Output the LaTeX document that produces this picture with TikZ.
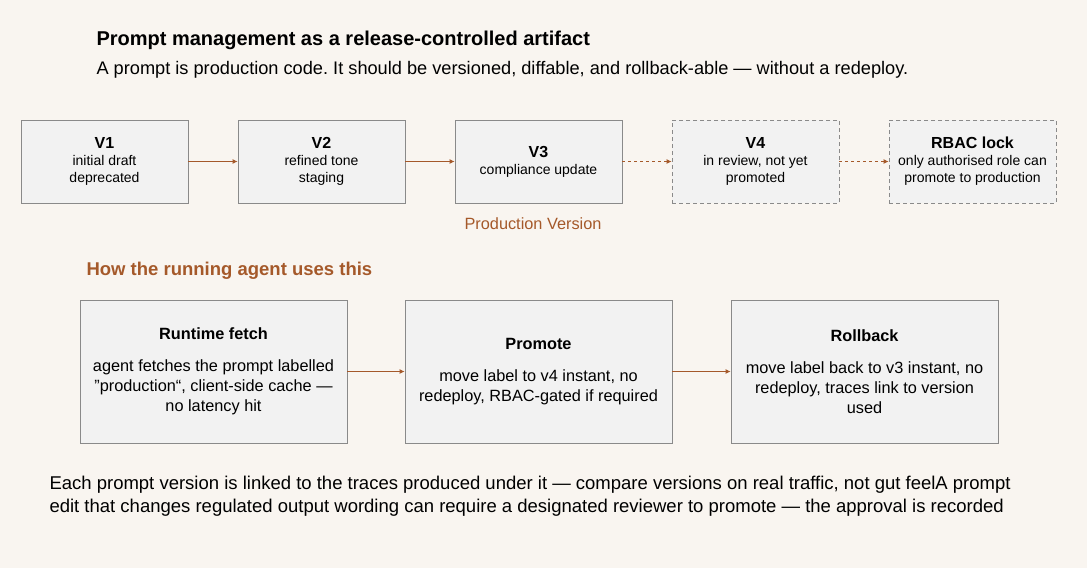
\documentclass[tikz,border=0pt]{standalone}
\usepackage{fontspec}
\setmainfont{Liberation Sans}
\usetikzlibrary{arrows.meta}
\definecolor{bg}{HTML}{F9F5F0}
\definecolor{bx}{HTML}{F2F2F2}
\definecolor{bd}{HTML}{8A8A8A}
\definecolor{ac}{HTML}{A5592A}
\frenchspacing
\begin{document}
\begin{tikzpicture}[x=1pt,y=-1pt,
 box/.style={draw=bd,fill=bx,line width=0.8pt,minimum width=167pt,minimum height=83pt,align=center,inner sep=2pt,font=\fontsize{14}{17}\selectfont},
 bbox/.style={draw=bd,fill=bx,line width=0.8pt,minimum width=267pt,minimum height=143pt,align=center,inner sep=2pt,font=\fontsize{16.3}{20}\selectfont},
 dbox/.style={box,dash pattern=on 4pt off 3pt},
 arr/.style={draw=ac,line width=0.9pt,-{Latex[length=5pt,width=5pt]}},
 darr/.style={arr,dash pattern=on 3pt off 3pt}]
\fill[bg] (0,0) rectangle (1087,568);
\node[anchor=west,font=\fontsize{20}{24}\bfseries\selectfont] (title) at (93,40) {Prompt management as a release-controlled artifact};
\node[anchor=west,font=\fontsize{18.2}{22}\selectfont] (sub) at (93,70) {A prompt is production code. It should be versioned, diffable, and rollback-able — without a redeploy.};
\node[box] (v1) at (104.5,161.5) {{\fontsize{16}{20}\bfseries\selectfont V1}\\initial draft\\deprecated};
\node[box] (v2) at (321.5,161.5) {{\fontsize{16}{20}\bfseries\selectfont V2}\\refined tone\\staging};
\node[box] (v3) at (538.5,161.5) {{\fontsize{16}{20}\bfseries\selectfont V3}\\compliance update};
\node[dbox] (v4) at (755.5,161.5) {{\fontsize{16}{20}\bfseries\selectfont V4}\\in review, not yet\\promoted};
\node[dbox] (rb) at (972.5,161.5) {{\fontsize{16}{20}\bfseries\selectfont RBAC lock}\\only authorised role can\\promote to production};
\draw[arr] (v1) -- (v2);
\draw[arr] (v2) -- (v3);
\draw[darr] (v3) -- (v4);
\draw[darr] (v4) -- (rb);
\node[text=ac,font=\fontsize{16.3}{19}\selectfont] (pv) at (533,224) {Production Version};
\node[anchor=west,text=ac,font=\fontsize{18.5}{22}\bfseries\selectfont] (how) at (83,271) {How the running agent uses this};
\node[bbox] (rf) at (213.5,371.5) {{\bfseries Runtime fetch}\\[12pt]agent fetches the prompt labelled\\\symbol{34}production“, client-side cache —\\no latency hit};
\node[bbox] (pr) at (538.5,371.5) {{\bfseries Promote}\\[12pt]move label to v4 instant, no\\redeploy, RBAC-gated if required};
\node[bbox] (ro) at (864.5,371.5) {{\bfseries Rollback}\\[12pt]move label back to v3 instant, no\\redeploy, traces link to version\\used};
\draw[arr] (rf) -- (pr);
\draw[arr] (pr) -- (ro);
\node[anchor=north west,align=left,font=\fontsize{18.5}{23}\selectfont] (foot) at (46,473) {Each prompt version is linked to the traces produced under it — compare versions on real traffic, not gut feelA prompt\\edit that changes regulated output wording can require a designated reviewer to promote — the approval is recorded};
\end{tikzpicture}
\end{document}
